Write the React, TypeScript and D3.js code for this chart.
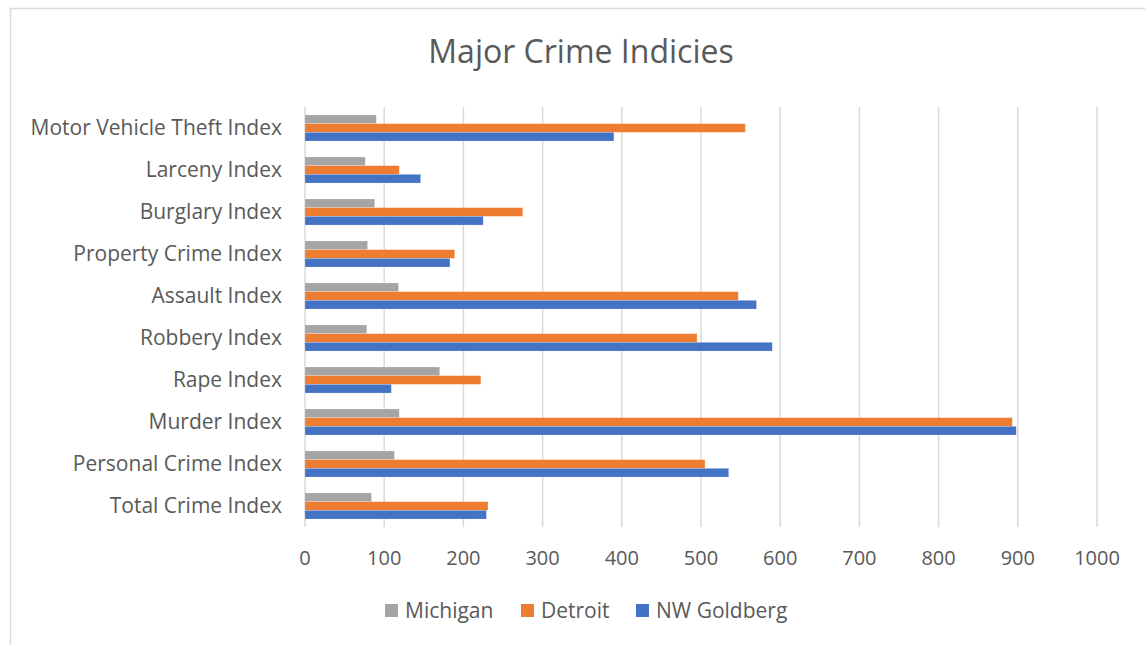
import React from 'react';
import * as d3 from 'd3';

// categories top -> bottom as shown
const categories = [
  'Motor Vehicle Theft Index',
  'Larceny Index',
  'Burglary Index',
  'Property Crime Index',
  'Assault Index',
  'Robbery Index',
  'Rape Index',
  'Murder Index',
  'Personal Crime Index',
  'Total Crime Index',
];

const michigan = [90, 76, 88, 79, 118, 78, 170, 119, 113, 84];
const detroit = [556, 119, 275, 189, 547, 495, 222, 893, 505, 231];
const nwGoldberg = [390, 146, 225, 183, 570, 590, 109, 898, 535, 229];

const seriesNames = ['Michigan', 'Detroit', 'NW Goldberg'];
const seriesColors = ['#A5A5A5', '#ED7D31', '#4472C4'];
const xTicks = [0, 100, 200, 300, 400, 500, 600, 700, 800, 900, 1000];

const W = 1145;
const H = 645;
const FONT = '"Open Sans", sans-serif';
const TEXT = '#595959';
const GRID = '#d9d9d9';

const App: React.FC = () => {
  const plot = { left: 305, right: 1097, top: 107, bottom: 527 };

  const x = d3.scaleLinear().domain([0, 1000]).range([plot.left, plot.right]);
  const y = d3.scaleBand<string>()
    .domain(categories)
    .range([plot.top, plot.bottom])
    .paddingInner(0.38)
    .paddingOuter(0.19);
  const inner = d3.scaleBand<string>()
    .domain(seriesNames)
    .range([0, y.bandwidth()]);

  const values = [michigan, detroit, nwGoldberg];

  // legend layout
  const legendX = [385, 521, 636];

  return (
    <svg width={W} height={H} style={{ position: 'absolute', left: 0, top: 0 }} fontFamily={FONT}>
      <rect x={0} y={0} width={W} height={H} fill="#fff" />
      {/* chart border */}
      <rect x={10.5} y={8.5} width={W + 10} height={H + 10} fill="none" stroke={GRID} strokeWidth={1.5} />

      <text x={581} y={63} textAnchor="middle" fontSize={32} fill={TEXT}>Major Crime Indicies</text>

      {/* gridlines */}
      {xTicks.map(t => (
        <line key={t} x1={x(t)} x2={x(t)} y1={plot.top} y2={plot.bottom} stroke={GRID} strokeWidth={1.5} />
      ))}

      {/* bars */}
      {categories.map((c, i) => (
        <g key={c} transform={`translate(0,${y(c)})`}>
          {seriesNames.map((s, j) => (
            <rect
              key={s}
              x={x(0)}
              y={inner(s)}
              width={x(values[j][i]) - x(0)}
              height={inner.bandwidth()}
              fill={seriesColors[j]}
              stroke="#ffffff"
              strokeOpacity={0.4}
              strokeWidth={0.5}
            />
          ))}
        </g>
      ))}

      {/* category labels */}
      {categories.map(c => (
        <text key={c} x={282} y={(y(c) ?? 0) + y.bandwidth() / 2} dy="0.35em" textAnchor="end" fontSize={21} fill={TEXT}>
          {c}
        </text>
      ))}

      {/* x tick labels */}
      {xTicks.map(t => (
        <text key={t} x={x(t)} y={565} textAnchor="middle" fontSize={20} fill={TEXT}>{t}</text>
      ))}

      {/* legend */}
      {seriesNames.map((s, j) => (
        <g key={s} transform={`translate(${legendX[j]},604)`}>
          <rect x={0} y={0} width={13} height={13} fill={seriesColors[j]} />
          <text x={20} y={6.5} dy="0.35em" fontSize={21} fill={TEXT}>{s}</text>
        </g>
      ))}
    </svg>
  );
};

export default App;
